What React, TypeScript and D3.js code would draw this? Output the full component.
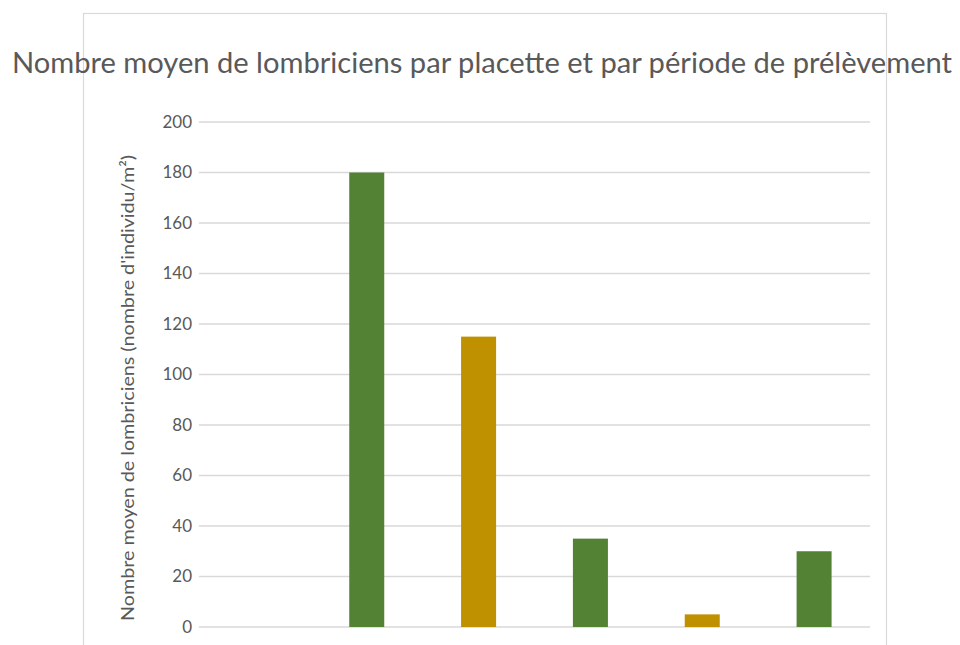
import React from 'react';
import * as d3 from 'd3';

// Chart data
const categories = ['P1', 'P2', 'P3', 'P4', 'P5', 'P6'];
const values = [0, 180, 115, 35, 5, 30];
const groups = ['b', 'a', 'b', 'a', 'b', 'a'];
const yTicks = [0, 20, 40, 60, 80, 100, 120, 140, 160, 180, 200];

const TITLE = 'Nombre moyen de lombriciens par placette et par période de prélèvement';
const Y_LABEL = "Nombre moyen de lombriciens (nombre d'individu/m²)";

const W = 960;
const H = 645;
const FONT = 'Lato, "Open Sans", sans-serif';
const TEXT = '#595959';
const GRID = '#d9d9d9';

const x = d3
  .scaleBand<string>()
  .domain(categories)
  .range([199, 870])
  .paddingInner(0.687)
  .paddingOuter(0.3435);

const y = d3.scaleLinear().domain([0, 200]).range([627, 122]);

const color = d3.scaleOrdinal<string, string>().domain(['a', 'b']).range(['#548235', '#BF9000']);

export default function App() {
  return (
    <svg
      width={W}
      height={H}
      style={{ position: 'absolute', left: 0, top: 0, background: '#fff' }}
    >
      <rect x={83.5} y={13.5} width={803} height={700} fill="#fff" stroke={GRID} strokeWidth={1.2} />

      {/* title */}
      <text
        x={482}
        y={73}
        textAnchor="middle"
        fill={TEXT}
        fontFamily={FONT}
        fontSize={28}
        textLength={940}
        lengthAdjust="spacingAndGlyphs"
      >
        {TITLE}
      </text>

      {/* gridlines + y ticks */}
      {yTicks.map((t) => (
        <g key={t}>
          <line x1={199} x2={870} y1={y(t)} y2={y(t)} stroke={GRID} strokeWidth={1.5} />
          <text
            x={192}
            y={y(t)}
            dy="0.35em"
            textAnchor="end"
            fill={TEXT}
            fontFamily={FONT}
            fontSize={17}
          >
            {t}
          </text>
        </g>
      ))}

      {/* bars */}
      {categories.map((c, i) => (
        <rect
          key={c}
          x={x(c)}
          y={y(values[i])}
          width={x.bandwidth()}
          height={y(0) - y(values[i])}
          fill={color(groups[i])}
        />
      ))}

      {/* y axis title */}
      <text
        transform={`translate(134, 388) rotate(-90)`}
        textAnchor="middle"
        fill={TEXT}
        fontFamily={FONT}
        fontSize={18}
        textLength={466}
        lengthAdjust="spacingAndGlyphs"
      >
        {Y_LABEL}
      </text>
    </svg>
  );
}
